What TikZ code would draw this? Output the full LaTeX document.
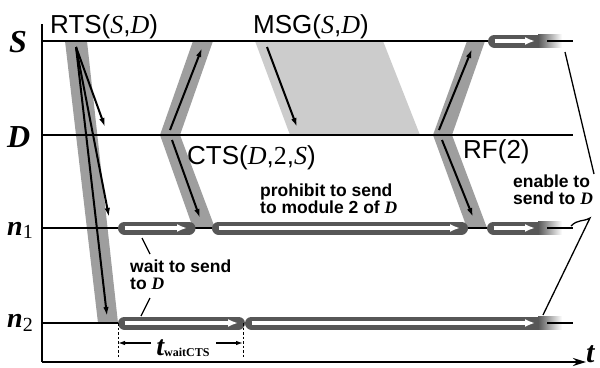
\documentclass[tikz,border=0pt]{standalone}
\usepackage{fontspec}
\setmainfont{Liberation Sans}
\newfontfamily\tms{Liberation Serif}
\usetikzlibrary{arrows.meta}
\definecolor{bandgray}{gray}{0.62}
\definecolor{msggray}{gray}{0.80}
\definecolor{pipegray}{gray}{0.34}
\newcommand\vr[1]{{\tms\itshape #1}}

\begin{document}
\begin{tikzpicture}[x=1pt,y=-1pt,
  timeline/.style={line width=1.3pt},
  axisline/.style={line width=2.2pt},
  sig/.style={line width=2pt,-{Latex[length=9pt,width=5.5pt]}},
  pipebody/.style={line width=13pt,line cap=round,draw=pipegray},
  pipecore/.style={line width=4.4pt,draw=white,-{Latex[length=10pt,width=8pt]}},
  fadetail/.style={left color=pipegray,right color=white},
  pointer/.style={line width=1.3pt},
  msglabel/.style={font=\fontsize{26}{30}\selectfont,inner sep=0pt,anchor=base west},
  note/.style={font=\fontsize{17.5}{17}\selectfont\bfseries,align=left,inner sep=0pt,anchor=north west},
  axislabel/.style={font=\fontsize{32}{36}\selectfont\tms\bfseries\itshape,inner sep=0pt,anchor=base west},
  nlabel/.style={font=\fontsize{28}{32}\selectfont\tms\bfseries\itshape,inner sep=0pt,anchor=base west},
  span/.style={line width=1.2pt,-{Latex[length=7pt,width=4.5pt]}}]

\useasboundingbox (0,0) rectangle (600,367);

% end points of the four time lines
\coordinate (Sa) at (42,41);  \coordinate (Sb) at (573,41);
\coordinate (Da) at (42,135); \coordinate (Db) at (573,135);
\coordinate (Na) at (42,228); \coordinate (Nb) at (573,228);
\coordinate (Ma) at (42,323); \coordinate (Mb) at (573,323);

% transmission bands
\fill[bandgray] (65,41) -- (87,41) -- (118,323) -- (98,323) -- cycle;
\fill[msggray] (255,41) -- (383,41) -- (420,135) -- (290,135) -- cycle;
\fill[bandgray] (193,41) -- (213,41) -- (180,135) -- (215,228) -- (193,228) -- (160,135) -- cycle;
\fill[bandgray] (467,41) -- (485,41) -- (452,135) -- (487,228) -- (467,228) -- (433,135) -- cycle;

% time lines
\draw[timeline] (Sa) -- (Sb);
\draw[timeline] (Da) -- (Db);
\draw[timeline] (Na) -- (Nb);
\draw[timeline] (Ma) -- (Mb);

% RTS from S to D, n1 and n2
\coordinate (r0) at (76,47);
\coordinate (r1) at (105,127);
\coordinate (r2) at (109,217);
\coordinate (r3) at (107,316);
\draw[sig] (r0) -- (r1);
\draw[sig] (r0) -- (r2);
\draw[sig] (r0) -- (r3);

% CTS from D to S and n1
\coordinate (c0) at (170,130); \coordinate (c1) at (202,48);
\coordinate (c2) at (172,140); \coordinate (c3) at (200,218);
\draw[sig] (c0) -- (c1);
\draw[sig] (c2) -- (c3);

% message from S to D
\coordinate (m0) at (267,47); \coordinate (m1) at (297,127);
\draw[sig] (m0) -- (m1);

% RF from D to S and n1
\coordinate (f0) at (439,130); \coordinate (f1) at (472,49);
\coordinate (f2) at (442,140); \coordinate (f3) at (473,217);
\draw[sig] (f0) -- (f1);
\draw[sig] (f2) -- (f3);

% state pipes
% S: enabled after RF
\coordinate (sp0) at (494.5,41); \coordinate (sp1) at (545,41); \coordinate (sp2) at (535,41);
\draw[pipebody] (sp0) -- (sp1);
\draw[pipecore] (sp0) -- (sp2);
\shade[fadetail] (538,34.5) rectangle (562,47.5);
% n1: waiting, prohibited, enabled
\coordinate (na0) at (124.5,228); \coordinate (na1) at (189,228); \coordinate (na2) at (187,228);
\draw[pipebody] (na0) -- (na1);
\draw[pipecore] (na0) -- (na2);
\coordinate (nb0) at (218.5,228); \coordinate (nb1) at (461.5,228); \coordinate (nb2) at (460,228);
\draw[pipebody] (nb0) -- (nb1);
\draw[pipecore] (nb0) -- (nb2);
\coordinate (nc0) at (493.5,228); \coordinate (nc1) at (545,228); \coordinate (nc2) at (535,228);
\draw[pipebody] (nc0) -- (nc1);
\draw[pipecore] (nc0) -- (nc2);
\shade[fadetail] (538,221.5) rectangle (562,234.5);
% n2: waiting for CTS, then enabled
\coordinate (ma0) at (124.5,323); \coordinate (ma1) at (238.5,323); \coordinate (ma2) at (238,323);
\draw[pipebody] (ma0) -- (ma1);
\draw[pipecore] (ma0) -- (ma2);
\coordinate (mb0) at (251.5,323); \coordinate (mb1) at (545,323); \coordinate (mb2) at (535,323);
\draw[pipebody] (mb0) -- (mb1);
\draw[pipecore] (mb0) -- (mb2);
\shade[fadetail] (538,316.5) rectangle (562,329.5);

% line ends over the faded tails
\coordinate (Sf) at (547,41); \coordinate (Nf) at (547,228); \coordinate (Mf) at (547,323);
\draw[timeline] (Sf) -- (Sb);
\draw[timeline] (Nf) -- (Nb);
\draw[timeline] (Mf) -- (Mb);

% waiting time for CTS
\coordinate (dl0) at (118,323); \coordinate (dl1) at (118,357);
\coordinate (dr0) at (243,323); \coordinate (dr1) at (243,357);
\draw[line width=0.9pt,dashed,dash pattern=on 2.5pt off 2pt] (dl0) -- (dl1);
\draw[line width=0.9pt,dashed,dash pattern=on 2.5pt off 2pt] (dr0) -- (dr1);
\node[inner sep=0pt,anchor=base] (twait) at (183,355)
  {{\fontsize{28}{28}\selectfont\tms\bfseries\itshape t}\raisebox{-1pt}{\fontsize{12}{12}\selectfont\tms\bfseries waitCTS}};
\coordinate (tl) at (151,343); \coordinate (tlx) at (118,343);
\coordinate (tr) at (216,343); \coordinate (trx) at (243,343);
\draw[span] (tl) -- (tlx);
\draw[span] (tr) -- (trx);

% message labels
\node[msglabel] (rts) at (50,33) {RTS(\vr{S},\vr{D})};
\node[msglabel] (msg) at (253,33) {MSG(\vr{S},\vr{D})};
\node[msglabel] (cts) at (187,164) {CTS(\vr{D},{\tms 2},\vr{S})};
\node[msglabel] (rf) at (463,158) {RF(2)};

% notes
\node[note] (prohibit) at (260,184) {prohibit to send\\to module 2 of \vr{D}};
\node[note] (wait) at (130,260) {wait to send\\to \vr{D}};
\node[note] (enable) at (513,175) {enable to\\send to \vr{D}};

% note pointers
\coordinate (w0) at (142,238); \coordinate (w1) at (150,254);
\coordinate (w2) at (150,298); \coordinate (w3) at (141,316);
\draw[pointer] (w0) -- (w1);
\draw[pointer] (w2) -- (w3);
\coordinate (e0) at (565,52); \coordinate (e1) at (594,174);
\draw[pointer] (e0) -- (e1);
\coordinate (e2) at (543,315); \coordinate (e3) at (590,218); \coordinate (e4) at (571,226);
\draw[pointer] (e2) -- (e3) .. controls (583,222) and (578,219) .. (e4);

% axes
\coordinate (ytop) at (42,24); \coordinate (orig) at (42,362); \coordinate (tend) at (586,362);
\draw[axisline] (ytop) -- (orig);
\draw[axisline,-{Stealth[length=13pt,width=8pt]}] (orig) -- (tend);

% axis labels
\node[axislabel] (lblS) at (9,52) {S};
\node[axislabel] (lblD) at (7,147) {D};
\node[nlabel] (lbln1) at (7,235) {n\raisebox{-3pt}{\fontsize{20}{20}\selectfont\upshape\mdseries 1}};
\node[nlabel] (lbln2) at (7,327) {n\raisebox{-4pt}{\fontsize{20}{20}\selectfont\upshape\mdseries 2}};
\node[axislabel,font=\fontsize{30}{34}\selectfont\tms\bfseries\itshape] (lblt) at (586,362) {t};
\end{tikzpicture}
\end{document}
